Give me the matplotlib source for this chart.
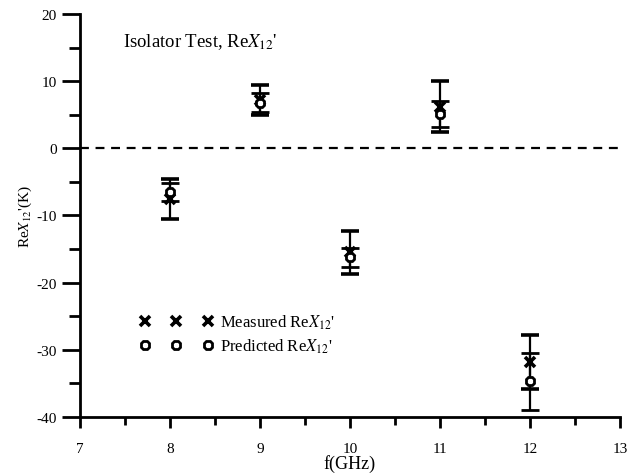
import numpy as np
import matplotlib
matplotlib.use("Agg")
import matplotlib.pyplot as plt
from matplotlib.ticker import MultipleLocator
from matplotlib.lines import Line2D

plt.rcParams['font.family'] = ['Liberation Serif', 'DejaVu Serif']
plt.rcParams['mathtext.fontset'] = 'stix'
plt.rcParams['axes.unicode_minus'] = False

# data
freq = [8, 9, 10, 11, 12]
measured = [-7.5, 7.2, -15.5, 6.2, -31.8]
measured_err = [3.0, 2.2, 3.2, 3.8, 4.0]
predicted = [-6.5, 6.8, -16.2, 5.1, -34.7]
predicted_err = [1.3, 1.4, 1.4, 2.0, 4.2]

fig = plt.figure(figsize=(6.37, 4.77), dpi=100)
ax = fig.add_axes([0.1256, 0.1237, 0.8474, 0.845])

ax.axhline(0, color='black', lw=1.6, ls=(0, (4, 3)), zorder=1)

ax.errorbar(freq, measured, yerr=measured_err, fmt='x', color='black',
            ms=7, mew=2.6, ecolor='black', elinewidth=1.6, capsize=6.3,
            capthick=1.6, zorder=3)
ax.errorbar(freq, predicted, yerr=predicted_err, fmt='8', color='black',
            mfc='white', ms=7, mew=2, ecolor='black', elinewidth=1.6,
            capsize=6.3, capthick=1.6, zorder=3)

ax.set_xlim(7, 13)
ax.set_ylim(-40, 20)
ax.xaxis.set_major_locator(MultipleLocator(1))
ax.xaxis.set_minor_locator(MultipleLocator(0.5))
ax.yaxis.set_major_locator(MultipleLocator(10))
ax.yaxis.set_minor_locator(MultipleLocator(5))

for s in ['top', 'right']:
    ax.spines[s].set_visible(False)
for s in ['left', 'bottom']:
    ax.spines[s].set_linewidth(2)

ax.tick_params(axis='both', which='major', direction='out', width=2,
               labelsize=11)
ax.tick_params(axis='y', which='major', length=13)
ax.tick_params(axis='y', which='minor', length=8, width=2)
ax.tick_params(axis='x', which='major', length=8, pad=10)
ax.tick_params(axis='x', which='minor', length=6, width=2)

ax.set_xlabel('f(GHz)', fontsize=13, labelpad=-1)
ax.set_ylabel("Re$X_{12}$'(K)", fontsize=11, labelpad=2)

ax.text(0.08, 0.957, "Isolator Test, Re$X_{12}$'", transform=ax.transAxes,
        fontsize=13.5, va='top', ha='left')

handles = [
    Line2D([], [], ls='none', marker='x', color='black', ms=7, mew=2.6),
    Line2D([], [], ls='none', marker='8', color='black', mfc='white', ms=7, mew=2),
]
labels = ["Measured Re$X_{12}$'", "Predicted Re$X_{12}$'"]
ax.legend(handles, labels, loc='center left', bbox_to_anchor=(0.098, 0.206),
          numpoints=3, handlelength=4.4, frameon=False, fontsize=12,
          handletextpad=0.4, labelspacing=0.35, borderaxespad=0)

fig.savefig('out.png', dpi=100)
